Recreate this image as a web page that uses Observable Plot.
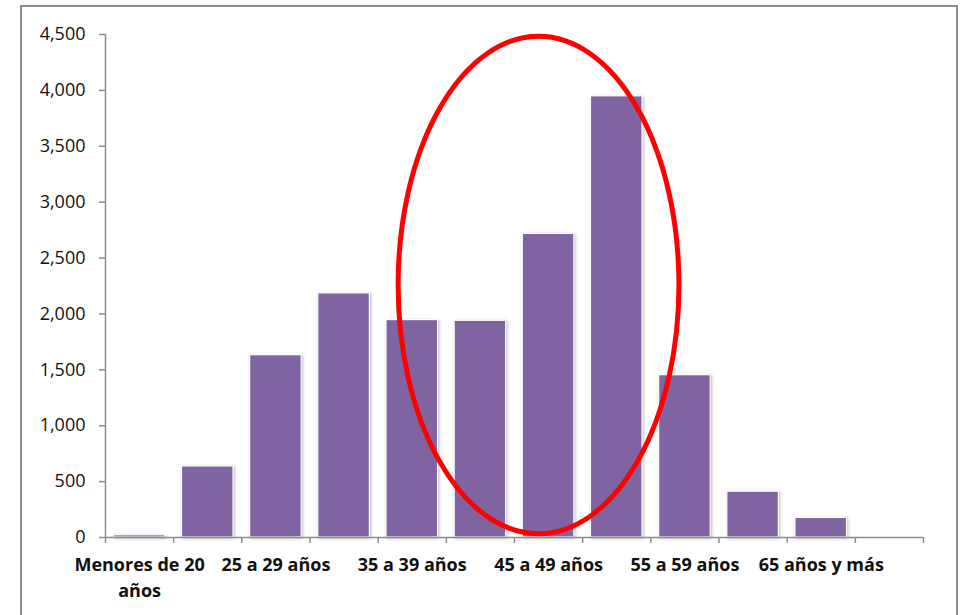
<!DOCTYPE html>
<html>
<head>
<meta charset="utf-8">
<script src="https://cdn.jsdelivr.net/npm/d3@7"></script>
<script src="https://cdn.jsdelivr.net/npm/@observablehq/plot@0.6"></script>
<style>
  html, body { margin: 0; padding: 0; background: #fff; }
  #wrap { position: relative; width: 976px; height: 615px; overflow: hidden; }
  #frame { position: absolute; left: 20px; top: 5px; width: 938px; height: 640px; border: 2px solid #8c8c8c; box-sizing: border-box; }
  #chart { position: absolute; left: 0; top: 0; }
  .bars rect { filter: drop-shadow(1.5px 1.5px 1.5px rgba(0,0,0,0.28)); }
</style>
</head>
<body>
<div id="wrap"><div id="frame"></div><div id="chart"></div></div>
<script>
const categories = ["Menores de 20 años", "20 a 24 años", "25 a 29 años", "30 a 34 años", "35 a 39 años", "40 a 44 años", "45 a 49 años", "50 a 54 años", "55 a 59 años", "60 a 64 años", "65 años y más", "No especificado"];
const values = [20, 636, 1631, 2184, 1945, 1939, 2716, 3947, 1452, 410, 175, 0];
const tickLabels = ["Menores de 20\naños", "25 a 29 años", "35 a 39 años", "45 a 49 años", "55 a 59 años", "65 años y más"];
const labelIndex = [0, 2, 4, 6, 8, 10];
const yTicks = [0, 500, 1000, 1500, 2000, 2500, 3000, 3500, 4000, 4500];
// highlight ellipse in data units (centre on category axis index, value axis)
const highlight = [{cx: 6.36, cy: 2255, rx: 2.06, ry: 2225}];

const data = categories.map((c, i) => ({category: c, i, value: values[i]}));
const labels = labelIndex.map((i, k) => ({i, text: tickLabels[k]}));

const font = "'Open Sans', Lato, sans-serif";

const chart = Plot.plot({
  width: 976,
  height: 615,
  marginLeft: 105,
  marginRight: 53,
  marginTop: 34,
  marginBottom: 78,
  style: {fontFamily: font, fontSize: "18px", color: "#111", background: "transparent", overflow: "visible"},
  x: {type: "linear", domain: [0, categories.length], axis: null},
  y: {domain: [0, 4500], axis: null},
  marks: [
    Plot.rectY(data, {x1: d => d.i, x2: d => d.i + 1, y: "value", fill: "#8064A2", stroke: "#ffffff", strokeWidth: 1.2, insetLeft: 8.3, insetRight: 8.3, className: "bars"}),
    Plot.ruleY([0], {stroke: "#8c8c8c", strokeWidth: 1.5}),
    Plot.ruleX([0], {stroke: "#8c8c8c", strokeWidth: 1.5}),
    Plot.axisY({ticks: yTicks, tickSize: 6, tickPadding: 14, tickFormat: d3.format(","), stroke: "#8c8c8c", strokeWidth: 1.5, fill: "#111", fontSize: 18, label: null}),
    Plot.axisX({ticks: d3.range(categories.length + 1), tickSize: 6, tickFormat: () => "", stroke: "#8c8c8c", strokeWidth: 1.5, label: null}),
    Plot.text(labels, {x: d => d.i + 0.5, y: 0, text: "text", lineAnchor: "top", dy: 16, lineHeight: 1.4, fontWeight: "bold", fontSize: 18, fill: "#111"}),
    Plot.dot(highlight, {
      x: "cx", y: "cy",
      render: (index, scales) => {
        const g = d3.create("svg:g");
        for (const i of index) {
          const d = highlight[i];
          const cx = scales.x(d.cx), cy = scales.y(d.cy);
          const rx = Math.abs(scales.x(d.cx + d.rx) - cx);
          const ry = Math.abs(scales.y(d.cy + d.ry) - cy);
          g.append("ellipse").attr("cx", cx).attr("cy", cy).attr("rx", rx).attr("ry", ry)
            .attr("fill", "none").attr("stroke", "#ff0000").attr("stroke-width", 5);
        }
        return g.node();
      }
    })
  ]
});
document.getElementById("chart").appendChild(chart);
</script>
</body>
</html>
